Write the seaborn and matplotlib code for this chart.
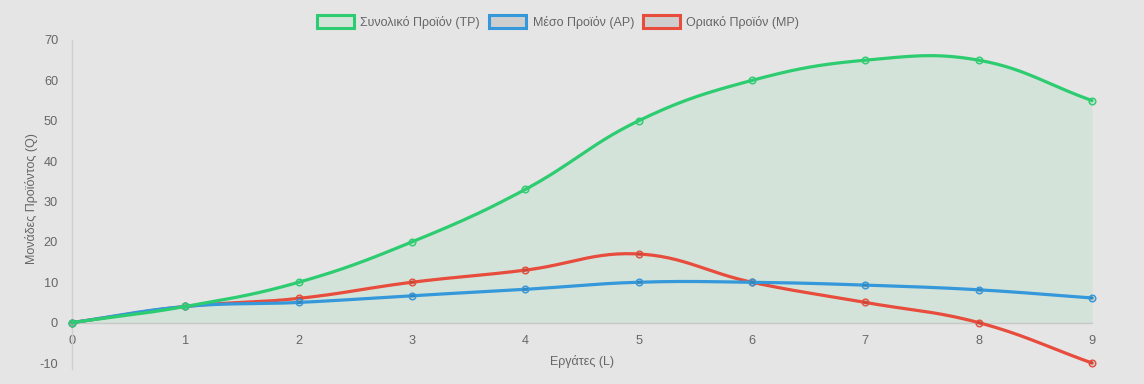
import numpy as np
import pandas as pd
import matplotlib
matplotlib.use('Agg')
import matplotlib.pyplot as plt
from matplotlib.patches import Patch
import seaborn as sns

workers = [0, 1, 2, 3, 4, 5, 6, 7, 8, 9]
total_product = [0, 4, 10, 20, 33, 50, 60, 65, 65, 55]
average_product = [0, 4, 5, 6.67, 8.25, 10, 10, 9.29, 8.13, 6.11]
marginal_product = [0, 4, 6, 10, 13, 17, 10, 5, 0, -10]

labels = ['Συνολικό Προϊόν (TP)', 'Μέσο Προϊόν (AP)', 'Οριακό Προϊόν (MP)']
colors = ['#2ecc71', '#3498db', '#e74c3c']

BG = '#e5e5e5'
TXT = '#666666'

# pixel scale of the plot area, used for the spline like chart.js does
SX = (1092 - 72) / 9
SY = (363 - 40) / 80


def spline_curve(xs, ys, tension=0.4, steps=30):
    px = np.asarray(xs, float) * SX
    py = np.asarray(ys, float) * SY
    n = len(px)
    cp_prev = np.zeros((n, 2))
    cp_next = np.zeros((n, 2))
    for i in range(n):
        a = max(i - 1, 0)
        c = min(i + 1, n - 1)
        d01 = np.hypot(px[i] - px[a], py[i] - py[a])
        d12 = np.hypot(px[c] - px[i], py[c] - py[i])
        tot = d01 + d12
        s01 = d01 / tot if tot else 0
        s12 = d12 / tot if tot else 0
        fa, fb = tension * s01, tension * s12
        dx, dy = px[c] - px[a], py[c] - py[a]
        cp_prev[i] = (px[i] - fa * dx, py[i] - fa * dy)
        cp_next[i] = (px[i] + fb * dx, py[i] + fb * dy)
    out_x, out_y = [], []
    t = np.linspace(0, 1, steps)
    for i in range(n - 1):
        p0 = np.array([px[i], py[i]])
        p1 = cp_next[i]
        p2 = cp_prev[i + 1]
        p3 = np.array([px[i + 1], py[i + 1]])
        pts = ((1 - t) ** 3)[:, None] * p0 + (3 * (1 - t) ** 2 * t)[:, None] * p1 \
            + (3 * (1 - t) * t ** 2)[:, None] * p2 + (t ** 3)[:, None] * p3
        if i > 0:
            pts = pts[1:]
        out_x.extend(pts[:, 0] / SX)
        out_y.extend(pts[:, 1] / SY)
    return np.array(out_x), np.array(out_y)


sns.set_theme(style='white')
plt.rcParams['font.family'] = ['Liberation Sans', 'DejaVu Sans']
plt.rcParams['axes.unicode_minus'] = False

fig = plt.figure(figsize=(11.44, 3.84), dpi=100, facecolor=BG)
ax = fig.add_axes([72 / 1144, 1 - 363 / 384, (1092 - 72) / 1144, (363 - 40) / 384])
ax.set_facecolor(BG)

series = [total_product, average_product, marginal_product]

# fill under total product
cx, cy = spline_curve(workers, total_product)
ax.fill_between(cx, 0, cy, color='#d3e3d9', zorder=1, linewidth=0)

# draw in reverse order so the first series sits on top
for k in [2, 1, 0]:
    sx_, sy_ = spline_curve(workers, series[k])
    df = pd.DataFrame({'x': sx_, 'y': sy_})
    sns.lineplot(data=df, x='x', y='y', sort=False, color=colors[k], linewidth=2.3,
                 ax=ax, zorder=3 + (2 - k), clip_on=False)
    face = (0.18, 0.8, 0.44, 0.15) if k == 0 else (0, 0, 0, 0.1)
    ax.plot(workers, series[k], linestyle='none', marker='o', markersize=4.8,
            markerfacecolor=face, markeredgecolor=colors[k], markeredgewidth=1.0,
            zorder=3 + (2 - k) + 0.5, clip_on=False)

ax.set_xlim(0, 9)
ax.set_ylim(-10, 70)
ax.set_xticks(workers)
ax.set_yticks(range(-10, 71, 10))
ax.set_xlabel('')
ax.set_ylabel('')

for s in ['top', 'right']:
    ax.spines[s].set_visible(False)
ax.spines['bottom'].set_position(('data', 0))
ax.spines['bottom'].set_color('#c8c8c8')
ax.spines['bottom'].set_linewidth(1)
ax.spines['bottom'].set_zorder(2)
ax.spines['left'].set_color('#cfcfcf')
ax.spines['left'].set_linewidth(1)
ax.spines['left'].set_bounds(-11.5, 70)

ax.tick_params(axis='x', length=0, pad=9, labelsize=9.2, labelcolor=TXT)
ax.tick_params(axis='y', length=0, pad=10, labelsize=9.2, labelcolor=TXT)

fig.text(582 / 1144, 1 - 362 / 384, 'Εργάτες (L)', ha='center', va='center',
         fontsize=9, color=TXT)
fig.text(32 / 1144, 1 - 199 / 384, 'Μονάδες Προϊόντος (Q)', ha='center', va='center',
         rotation=90, fontsize=9, color=TXT)

handles = [
    Patch(facecolor='#d3e3d9', edgecolor=colors[0], linewidth=2.2),
    Patch(facecolor='#cecece', edgecolor=colors[1], linewidth=2.2),
    Patch(facecolor='#cecece', edgecolor=colors[2], linewidth=2.2),
]
leg = fig.legend(handles, labels, loc='center', bbox_to_anchor=(558 / 1144, 1 - 22 / 384),
                 ncol=3, frameon=False, fontsize=9, handlelength=3.0, handleheight=1.2,
                 handletextpad=0.5, columnspacing=0.7, labelcolor=TXT)

fig.savefig('out.png', dpi=100, facecolor=BG)
